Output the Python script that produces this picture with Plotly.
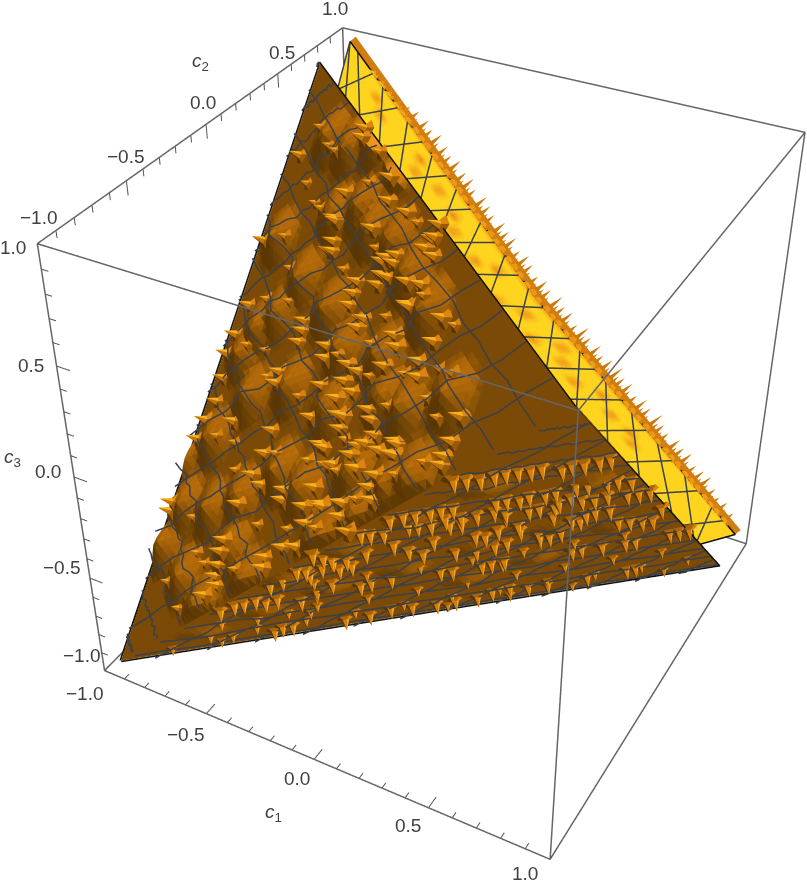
import numpy as np
import plotly.graph_objects as go

# ===============================
# VIEW (window 807x887, plot taller so the lens matches the reference)
# ===============================
WIN_W, WIN_H = 807, 887
FIG_H = 1441
TOP_CUT = 277
EYE = dict(x=1.2959, y=-2.4054, z=1.9916)
CENTER = dict(x=-0.0497, y=-0.0531, z=-0.0554)
UP = dict(x=0.0078, y=0.0060, z=1.0)

# ===============================
# DATA
# ===============================
TICKS_MINOR = [-0.9, -0.8, -0.7, -0.6, -0.4, -0.3, -0.2, -0.1, 0.1, 0.2, 0.3, 0.4, 0.6, 0.7, 0.8, 0.9]
TICKS_MAJOR = [-1.0, -0.5, 0.0, 0.5, 1.0]
TICK_LABELS = ["\u22121.0", "\u22120.5", "0.0", "0.5", "1.0"]

A_VERT = (-0.94, -0.96, -0.95)
D_VERT = (-0.95, 0.74, 0.96)
F_VERT = (0.98, -0.97, 0.99)
G_VERT = (0.975, 0.72, -0.92)

YEL_INNER_S = [0.0, 0.08, 0.5, 1.0]
YEL_INNER_C1 = [-0.99, -1.03, -0.518, 0.78]
YEL_INNER_C3 = [0.82, 0.678, -0.176, -1.076]
YEL_OUTER_S = [0.0, 0.5, 1.0]
YEL_OUTER_C1 = [-0.945, -0.041, 0.955]
YEL_OUTER_C3 = [0.965, -0.032, -0.94]
YEL_PLANE_C2 = 0.97

MESH_LEVELS = [-0.87, -0.73, -0.6, -0.47, -0.33, -0.2, -0.07, 0.07, 0.2, 0.33, 0.47, 0.6, 0.73, 0.87]
WOBBLE = [0.0, 0.008, -0.003, 0.009, -0.007, 0.002, 0.010, -0.005, -0.010, 0.004, 0.007, -0.008, 0.002, -0.006, 0.008]

LEFT_C1 = [-.45,-.44,-.45,-.03,-.09,-.03,-.09,-.04,-.22,
           -.10,-.22,-.22,.12,.10,.09,.15,.11,.14,
           .30,-.46,-.11,-.12,-.45,.10,.13,.29,-.45,
           -.24,-.22,.25,-.10,-.04,.11,-.48,-.10,.28,
           -.46,-.21,-.04,-.09,-.19,.12,.14,-.06,.29,
           .16,.13,-.43,-.09,.30,-.69,-.87,-.86,-.87,
           -.88,-.87,-.86,-.87,-.88,-.88,-.89,-.86,-.44,
           -.43,-.20,-.45,-.19,-.06,-.44,-.20,-.43,.12,
           .11,.15,-.07,.54,.53,.52,.52,-.04,-.04,
           .11,.10,.16,.20,.15,.28,.28,.27,.25,
           .28,-.12,-.04,-.06,.00,.12,.16,-.43,-.45,
           -.20,-.45,-.21,-.08,-.36,-.01,.14,-.03,-.44,
           -.44,-.45,-.05,-.14,-.22,-.21,-.47,-.45,-.48,
           .01,.21]
LEFT_C2 = [.06,-.00,-.02,-.22,-.21,-.24,-.24,-.27,-.20,
           -.26,-.23,-.26,-.24,-.26,-.34,-.37,-.40,-.42,
           -.51,-.20,-.34,-.36,-.23,-.47,-.51,-.56,-.26,
           -.36,-.40,-.59,-.46,-.50,-.55,-.33,-.50,-.64,
           -.37,-.47,-.55,-.55,-.56,-.66,-.69,-.60,-.80,
           -.73,-.74,-.50,-.67,-.83,-.38,.19,.01,-.07,
           -.12,-.19,-.26,-.31,-.36,-.54,-.56,.43,.29,
           .26,.05,.13,-.01,-.10,.05,-.08,-.03,-.21,
           -.24,-.30,-.21,-.83,-.88,-.91,-.93,-.61,-.64,
           -.74,-.76,-.73,-.78,-.81,-.82,-.79,-.87,-.89,
           -.93,-.65,-.73,-.78,-.84,-.88,-.93,-.56,-.61,
           -.74,-.69,-.76,-.82,-.67,-.74,-.89,-.88,-.79,
           -.82,-.85,-.93,-.90,-.90,-.93,-.87,-.90,-.92,
           -.85,-.98]
LEFT_SMALL_C1 = [-.75,-.75,-.75,-.75,-.75,-.75,-.75,-.75,-.65,-.65,-.65,-.65,-.65,-.65,-.65,
                 -.58,-.58,-.58,-.58,-.58,-.58,-.33,-.33,-.33,-.33,-.33,-.33,-.33,-.15,-.15,-.15,-.15,-.15,
                 .0,.0,.0,.0,.05,.05,.05,.2,.2,.2,.2,.36,.36,.36,.36,.45,.45,.45]
LEFT_SMALL_C2 = [.45,.30,.15,-.02,-.15,-.40,-.62,-.80,.35,.2,.02,-.2,-.45,-.75,-.9,
                 .3,.15,-.1,-.3,-.55,-.8,.18,.1,-.12,-.45,-.6,-.78,-.9,-.15,-.32,-.42,-.68,-.85,
                 -.15,-.38,-.45,-.68,-.55,-.78,-.92,-.42,-.6,-.68,-.9,-.55,-.65,-.72,-.9,-.7,-.8,-.9]

BOT_C1 = [.56,.59,.62,.66,.69,.72,.75,.78,.82,
          .85,.88,.92,.95,.31,.35,.38,.42,.45,
          .48,.59,.62,.65,.68,.72,.75,.81,.84,
          .89,.92,.95,.33,.35,.38,.43,.47,.51,
          .56,.57,.64,.67,.71,.18,.20,.22,.25,
          .42,.45,.44,.46,.51,.56,.58,.61,.94,
          .96,.23,.24,.26,.33,.34,.39,.45,.49,
          .35,.38,.41,.02,.03,.04,.07,.02,.06,
          .14,.23,.26,.09,.03,-.01,-.06,-.14,-.06,
          .73,.77,.79,.82,.86,.91,.97,.88,.85,
          .82,.83,.79,.76,.71,.68,.58,.57,.59,
          .65,.73,.92,.95,.98,.81,.78,.71,.62,
          .65,.42,.91,-.21,-.13,-.05,.01,.08,.14,
          .21,.27,.33,.38,.44,-.43,-.39,-.36,.70,
          .73,.57,-.43,-.37,-.34,-.30,-.29,-.25,-.20,
          -.15,-.08,-.07,-.13,-.01,.04,-.21,.02]
BOT_C2 = [-.95,-.92,-.88,-.86,-.84,-.81,-.78,-.76,-.69,
          -.68,-.65,-.62,-.60,-.93,-.91,-.88,-.85,-.83,
          -.80,-.70,-.68,-.64,-.63,-.59,-.57,-.54,-.51,
          -.46,-.44,-.39,-.84,-.81,-.77,-.76,-.72,-.68,
          -.65,-.58,-.54,-.52,-.48,-.99,-.94,-.91,-.87,
          -.71,-.68,-.55,-.51,-.51,-.43,-.30,-.28,-.28,
          -.08,-.77,-.68,-.61,-.66,-.51,-.44,-.41,-.39,
          -.31,-.29,-.26,-.97,-.92,-.87,-.83,-.80,-.78,
          -.81,-.42,-.38,-.55,-.60,-.61,-.73,-.72,-.90,
          -.49,-.48,-.43,-.39,-.37,-.31,-.25,-.05,-.10,
          -.14,-.26,-.30,-.31,-.32,-.42,-.60,-.47,-.33,
          -.27,-.29,.16,.18,.21,.09,.06,-.00,-.08,
          -.06,-.26,-.02,-.41,-.35,-.32,-.25,-.17,-.12,
          -.06,-.05,-.01,.06,.12,-.60,-.60,-.57,.32,
          .34,.22,-.94,-.93,-.91,-.89,-.84,-.82,-.93,
          -.92,-.93,-.86,-.73,-.87,-.88,-.72,-.97]
BOT_SMALL_C1 = [-.2,-.05,.1,.25,.4,.55,.7,.85,-.1,.05,.2,.35,.5,.65,.8,
                -.45,-.3,-.15,.0,.15,.3,.45,.6,.75,.9,-.75,-.6,.1,.3,.5,.8,
                -.6,-.55,-.5,-.4,-.3,-.25]
BOT_SMALL_C2 = [-.625,-.49,-.36,-.23,-.10,.03,.16,.3,-.79,-.66,-.52,-.39,-.26,-.13,0.0,
                -.69,-.56,-.43,-.3,-.17,-.04,.09,.23,.36,.49,-.86,-.73,-.11,.06,.24,.5,
                -.8,-.72,-.85,-.75,-.68,-.6]

BUMP_C1 = [-.57,-.82,-.18,-.42,-.66,-.81,-.96,-.66,-.31,-.90,-.53,-.30,.06,.39,.19,.03,.13,-.34,-.75,-.50,
           -.8,-.65,-.5,-.35,-.2,-.7,-.55,-.4,-.25,-.1,.05,.2,.05,-.15,.25,.45,-.85,-.7,-.45,-.15,.1,.3]
BUMP_C2 = [-.04,.18,-.39,-.39,-.32,-.38,-.38,-.63,-.65,-.65,-.93,-.93,-.95,-.91,-.93,-.94,-.63,-.22,-.10,-.65,
           -.15,-.1,.1,.05,.1,.4,.3,.25,-.05,-.15,-.3,-.45,-.5,-.55,-.7,-.75,-.55,-.8,-.8,-.75,-.8,-.9]
BOT_BUMP_C1 = [-.6,-.35,-.1,.15,.4,.65,-.15,.1,.35,.6,.85,.8,.5,.25]
BOT_BUMP_C2 = [-.85,-.78,-.7,-.55,-.45,-.3,-.9,-.88,-.85,-.8,-.5,-.1,-.15,-.25]

RIM_T = [.03,.05,.07,.09,.105,.12,.14,.155,.17,.19,.205,.22,.24,.255,.27,.29,.305,.32,.34,.355,
         .37,.39,.405,.42,.44,.455,.47,.49,.505,.52,.54,.555,.57,.59,.605,.62,.64,.655,.67,.69,
         .705,.72,.74,.755,.77,.79,.805,.82,.84,.855,.87,.89,.905,.92,.94]
RIM_H = [.015,.02,.02,.03,.04,.06,.07,.06,.08,.07,.06,.08,.07,.08,.06,.08,.07,.06,.08,.07,
         .08,.06,.08,.07,.06,.08,.07,.09,.07,.08,.06,.09,.07,.08,.06,.08,.09,.07,.08,.06,
         .08,.07,.09,.07,.06,.08,.07,.08,.06,.07,.08,.06,.05,.06,.05]

YEL_SPOT_S = [.10,.13,.22,.24,.28,.33,.36,.42,.44,.50,.53,.58,.60,.63,.67,.70,.74,.78,.80]
YEL_SPOT_R = [.75,.62,.78,.60,.75,.72,.60,.62,.80,.58,.75,.58,.82,.68,.60,.80,.68,.72,.60]

YEL_MESH_S = [.05,.115,.18,.245,.31,.375,.44,.505,.57,.635,.70,.765,.83,.895,.96,1.03,1.10]

# ===============================
# STYLE
# ===============================
LIGHT = np.array([1.0, 1.0, 1.0]) / np.sqrt(3)
RAMP_S = [0.0, 0.20, 0.32, 0.50, 0.70, 0.88, 1.0]
RAMP_R = [78, 92, 122, 186, 236, 247, 255]
RAMP_G = [46, 56, 74, 110, 144, 172, 210]
RAMP_B = [4, 4, 6, 10, 20, 32, 31]
FLAT_LIGHT = dict(ambient=1, diffuse=0, specular=0, roughness=1, fresnel=0)
MESH_COLOR = "#3c4048"
BOX_COLOR = "#666666"
TICK_COLOR = "#555555"
TEXT_COLOR = "#404040"
RIM_COLOR = "rgb(208,126,18)"
FONT = "Liberation Sans"
FONT_SIZE = 19


def shade(n):
    s = (np.dot(n, LIGHT) + 1) / 2
    r = np.interp(s, RAMP_S, RAMP_R)
    g = np.interp(s, RAMP_S, RAMP_G)
    b = np.interp(s, RAMP_S, RAMP_B)
    return f"rgb({r:.0f},{g:.0f},{b:.0f})"


def face_plane(a, b, c):
    a, b, c = np.array(a), np.array(b), np.array(c)
    n = np.cross(b - a, c - a)
    n = n / np.linalg.norm(n)
    eye = 2 * np.array([EYE["x"], EYE["y"], EYE["z"]])
    if np.dot(n, eye - a) < 0:
        n = -n
    return n, np.dot(n, a)


NL, KL = face_plane(A_VERT, D_VERT, F_VERT)
NB, KB = face_plane(A_VERT, F_VERT, G_VERT)
NY = LIGHT


def on_plane(c1, c2, n, k):
    return np.array([c1, c2, (k - n[0] * c1 - n[1] * c2) / n[2]])


LEFT_BUMPS = dict(c=[on_plane(a, b, NL, KL) for a, b in zip(BUMP_C1, BUMP_C2)], radius=0.14, height=0.05)
BOT_BUMPS = dict(c=[on_plane(a, b, NB, KB) for a, b in zip(BOT_BUMP_C1, BOT_BUMP_C2)], radius=0.10, height=0.018)


def bump_height(p, bumps):
    h = 0.0
    for c in bumps["c"]:
        d = np.linalg.norm(p - c)
        if d < bumps["radius"]:
            h = max(h, bumps["height"] * (1 - d / bumps["radius"]))
    return h


def grid_mesh(a, b, c, n_vec, bumps, n=76):
    a, b, c = np.array(a), np.array(b), np.array(c)
    idx = {}
    pts = []
    for i in range(n + 1):
        for j in range(n + 1 - i):
            p = a + (b - a) * i / n + (c - a) * j / n
            idx[(i, j)] = len(pts)
            # rim stays on the plane so neighbouring faces keep their seam
            rim = i == 0 or j == 0 or i + j == n
            pts.append(p if rim else p + n_vec * bump_height(p, bumps))
    pts = np.array(pts)
    tris = []
    for i in range(n):
        for j in range(n - i):
            tris.append((idx[(i, j)], idx[(i + 1, j)], idx[(i, j + 1)]))
            if j < n - i - 1:
                tris.append((idx[(i + 1, j)], idx[(i + 1, j + 1)], idx[(i, j + 1)]))
    colors = []
    for t in tris:
        v = np.cross(pts[t[1]] - pts[t[0]], pts[t[2]] - pts[t[0]])
        v = v / np.linalg.norm(v)
        if np.dot(v, n_vec) < 0:
            v = -v
        colors.append(shade(v))
    return pts, tris, colors


def mesh_trace(pts, tris, colors):
    pts = np.array(pts)
    tris = np.array(tris)
    return go.Mesh3d(x=pts[:, 0], y=pts[:, 1], z=pts[:, 2], i=tris[:, 0], j=tris[:, 1], k=tris[:, 2],
                     facecolor=colors, flatshading=True, lighting=FLAT_LIGHT, hoverinfo="skip", showscale=False)


def add_spike(pts, tris, colors, base, n_vec, height, radius, sides=5):
    e1 = np.cross(n_vec, [0.3, 0.5, 0.8])
    e1 = e1 / np.linalg.norm(e1)
    e2 = np.cross(n_vec, e1)
    start = len(pts)
    angles = [2 * np.pi * q / sides for q in range(sides)]
    ring = [base - n_vec * 0.004 + radius * (np.cos(t) * e1 + np.sin(t) * e2) for t in angles]
    tip = base + n_vec * height
    pts.extend(ring)
    pts.append(tip)
    for q in range(sides):
        p0, p1 = ring[q], ring[(q + 1) % sides]
        v = np.cross(p0 - tip, p1 - tip)
        v = v / np.linalg.norm(v)
        if np.dot(v, (p0 + p1) / 2 - base) < 0:
            v = -v
        tris.append((start + q, start + (q + 1) % sides, start + sides))
        colors.append(shade(v))


def level_polyline(verts, axis, level, n_vec, bumps, lift=0.012, samples=20, phase=0):
    crossings = []
    for i in range(len(verts)):
        p, q = np.array(verts[i]), np.array(verts[(i + 1) % len(verts)])
        if (p[axis] - level) * (q[axis] - level) < 0:
            t = (level - p[axis]) / (q[axis] - p[axis])
            crossings.append(p + t * (q - p))
    if len(crossings) < 2:
        return []
    a, b = crossings[0], crossings[1]
    side = np.cross(n_vec, b - a)
    side = side / np.linalg.norm(side)
    out = []
    for m in range(samples + 1):
        p = a + (b - a) * m / samples
        w = WOBBLE[(m + phase) % len(WOBBLE)] if 0 < m < samples else 0.0
        p = p + side * w
        out.append(p + n_vec * (bump_height(p, bumps) + lift))
    return out


def line_trace(points, color, width):
    xs, ys, zs = [], [], []
    for p in points:
        if p is None:
            xs.append(None); ys.append(None); zs.append(None)
        else:
            xs.append(p[0]); ys.append(p[1]); zs.append(p[2])
    return go.Scatter3d(x=xs, y=ys, z=zs, mode="lines", line=dict(color=color, width=width), hoverinfo="skip")


def yellow_point(s, r):
    inner = np.array([np.interp(s, YEL_INNER_S, YEL_INNER_C1), YEL_PLANE_C2, np.interp(s, YEL_INNER_S, YEL_INNER_C3)])
    outer = np.array([np.interp(s, YEL_OUTER_S, YEL_OUTER_C1), YEL_PLANE_C2, np.interp(s, YEL_OUTER_S, YEL_OUTER_C3)])
    return (1 - r) * inner + r * outer


fig = go.Figure()

# ===============================
# SURFACE
# ===============================
fig.add_trace(mesh_trace(*grid_mesh(A_VERT, D_VERT, F_VERT, NL, LEFT_BUMPS)))
fig.add_trace(mesh_trace(*grid_mesh(A_VERT, F_VERT, G_VERT, NB, BOT_BUMPS)))

sp_pts, sp_tris, sp_cols = [], [], []
for a, b in zip(LEFT_C1, LEFT_C2):
    p = on_plane(a, b, NL, KL)
    p = p + NL * bump_height(p, LEFT_BUMPS)
    add_spike(sp_pts, sp_tris, sp_cols, p, NL, 0.064, 0.022)
    add_spike(sp_pts, sp_tris, sp_cols, p, NL, 0.022, 0.042)
for a, b in zip(LEFT_SMALL_C1, LEFT_SMALL_C2):
    p = on_plane(a, b, NL, KL)
    p = p + NL * bump_height(p, LEFT_BUMPS)
    add_spike(sp_pts, sp_tris, sp_cols, p, NL, 0.04, 0.018)
    add_spike(sp_pts, sp_tris, sp_cols, p, NL, 0.016, 0.036)
for a, b in zip(BOT_C1, BOT_C2):
    p = on_plane(a, b, NB, KB)
    add_spike(sp_pts, sp_tris, sp_cols, p, NB, 0.053, 0.022)
    add_spike(sp_pts, sp_tris, sp_cols, p, NB, 0.02, 0.042)
for a, b in zip(BOT_SMALL_C1, BOT_SMALL_C2):
    p = on_plane(a, b, NB, KB)
    add_spike(sp_pts, sp_tris, sp_cols, p, NB, 0.036, 0.018)
    add_spike(sp_pts, sp_tris, sp_cols, p, NB, 0.016, 0.036)
for t, h in zip(RIM_T, RIM_H):
    p = yellow_point(t + 0.03, 1.0)
    add_spike(sp_pts, sp_tris, sp_cols, p, NY, h, 0.014)
    add_spike(sp_pts, sp_tris, sp_cols, yellow_point(t + 0.037, 1.0), NY, h * 0.6, 0.012)
    add_spike(sp_pts, sp_tris, sp_cols, p, NY, h * 0.4, 0.024)
fig.add_trace(mesh_trace(sp_pts, sp_tris, sp_cols))

# orange wall behind the spiky rim
wall_pts, wall_tris = [], []
for p in range(41):
    q = yellow_point(p / 40, 1.0)
    wall_pts += [q, q + NY * 0.028]
for p in range(40):
    a = 2 * p
    wall_tris += [(a, a + 1, a + 2), (a + 1, a + 3, a + 2)]
fig.add_trace(mesh_trace(wall_pts, wall_tris, [RIM_COLOR] * len(wall_tris)))

# yellow band, orange dimples through vertex colours
N_S, N_R = 140, 14
y_pts, y_tris, y_cols = [], [], []
for p in range(N_S + 1):
    for q in range(N_R + 1):
        s, r = p / N_S, q / N_R
        y_pts.append(yellow_point(s, r))
        mix = 0.0
        for a, b in zip(YEL_SPOT_S, YEL_SPOT_R):
            mix = max(mix, 1 - np.hypot((s - a) / 0.018, (r - b) / 0.09))
        edge = max(0.0, (r - 0.93) / 0.07) * 0.7
        mix = max(mix, edge)
        y_cols.append(f"rgb({255 - 22 * mix:.0f},{212 - 82 * mix:.0f},{30 - 8 * mix:.0f})")
for p in range(N_S):
    for q in range(N_R):
        a = p * (N_R + 1) + q
        y_tris += [(a, a + 1, a + N_R + 1), (a + 1, a + N_R + 2, a + N_R + 1)]
y_pts, y_tris = np.array(y_pts), np.array(y_tris)
fig.add_trace(go.Mesh3d(x=y_pts[:, 0], y=y_pts[:, 1], z=y_pts[:, 2], i=y_tris[:, 0], j=y_tris[:, 1], k=y_tris[:, 2],
                        vertexcolor=y_cols, lighting=FLAT_LIGHT, hoverinfo="skip", showscale=False))

# ===============================
# MESH LINES AND OUTLINES
# ===============================
grid_lines = []
for axis in (1, 2):
    for m, level in enumerate(MESH_LEVELS):
        for verts, n_vec, bumps in (((A_VERT, D_VERT, F_VERT), NL, LEFT_BUMPS), ((A_VERT, F_VERT, G_VERT), NB, BOT_BUMPS)):
            grid_lines += level_polyline(verts, axis, level, n_vec, bumps, phase=m * 3 + axis) + [None]
YEL_FRONT = np.array([0, 0.004, 0])
for s in YEL_MESH_S:
    if s <= 1:
        grid_lines += [yellow_point(s, 0) - YEL_FRONT, yellow_point(min(s + 0.01, 1), 1) - YEL_FRONT, None]
    grid_lines += [yellow_point(min(s, 1), 0) - YEL_FRONT, yellow_point(max(s - 0.16, 0), 1) - YEL_FRONT, None]
fig.add_trace(line_trace(grid_lines, MESH_COLOR, 3))

LIFT_L, LIFT_B = NL * 0.004, NB * 0.004
outline = [np.array(A_VERT) + LIFT_L, np.array(D_VERT) + LIFT_L, np.array(F_VERT) + LIFT_L, np.array(G_VERT) + LIFT_B,
           np.array(A_VERT) + LIFT_B, None,
           yellow_point(0.0, 1) - YEL_FRONT, yellow_point(0.5, 1) - YEL_FRONT, yellow_point(1.0, 1) - YEL_FRONT,
           yellow_point(1.0, 0) - YEL_FRONT]
fig.add_trace(line_trace(outline, "#111111", 3))

# ===============================
# BOX AND TICKS
# ===============================
box = [(-1,-1,-1),(1,-1,-1),(1,-1,1),(-1,-1,1),(-1,-1,-1),(-1,1,-1),(1,1,-1),(1,1,1),(-1,1,1),(-1,1,-1),None,
       (1,-1,-1),(1,1,-1),None,(1,-1,1),(1,1,1),None,(-1,-1,1),(-1,1,1)]
fig.add_trace(line_trace(box, BOX_COLOR, 3))

ticks = []
for values, size in ((TICKS_MAJOR, 0.06), (TICKS_MINOR, 0.03)):
    for v in values:
        ticks += [(v, -1, -1), (v, -1 + size, -1), None]
        ticks += [(-1, v, 1), (-1, v, 1 - size), None]
        ticks += [(-1, -1, v), (-1 + size, -1, v), None]
fig.add_trace(line_trace(ticks, TICK_COLOR, 2))

# ===============================
# TEXT (window pixels)
# ===============================
C1_LABEL_X = [85, 186, 297, 408, 525]
C1_LABEL_Y = [693, 734, 778, 825, 873]
C2_LABEL_X = [39, 126, 203, 282, 335]
C2_LABEL_Y = [217, 156, 102, 53, 8]
C3_LABEL_X = [82, 62, 48, 31, 13]
C3_LABEL_Y = [655, 568, 471, 365, 247]
TITLES = ["<i>c</i><sub>1</sub>", "<i>c</i><sub>2</sub>", "<i>c</i><sub>3</sub>"]
TITLE_X = [273, 200, 13]
TITLE_Y = [813, 62, 458]


def label(text, px, py):
    return dict(x=px / WIN_W, y=1 - (py + TOP_CUT) / FIG_H, xref="paper", yref="paper", text=text, showarrow=False,
                xanchor="center", yanchor="middle", font=dict(family=FONT, size=FONT_SIZE, color=TEXT_COLOR))


notes = []
for xs_, ys_ in ((C1_LABEL_X, C1_LABEL_Y), (C2_LABEL_X, C2_LABEL_Y), (C3_LABEL_X, C3_LABEL_Y)):
    notes += [label(t, a, b) for t, a, b in zip(TICK_LABELS, xs_, ys_)]
notes += [label(t, a, b) for t, a, b in zip(TITLES, TITLE_X, TITLE_Y)]

axis = dict(visible=False, range=[-1.1, 1.1])
fig.update_layout(
    width=WIN_W, height=FIG_H, margin=dict(l=0, r=0, t=0, b=0), showlegend=False, paper_bgcolor="white",
    annotations=notes,
    scene=dict(domain=dict(x=[0, 1], y=[0, 1]), xaxis=axis, yaxis=axis, zaxis=axis, dragmode="orbit",
               aspectmode="manual", aspectratio=dict(x=1.1, y=1.1, z=1.1),
               camera=dict(eye=EYE, center=CENTER, up=UP, projection=dict(type="perspective"))),
)
fig.write_html(
    "out.html",
    config=dict(displayModeBar=False),
    post_script=f"document.body.style.margin='-{TOP_CUT}px 0 0 0';document.documentElement.style.overflow='hidden';",
)
